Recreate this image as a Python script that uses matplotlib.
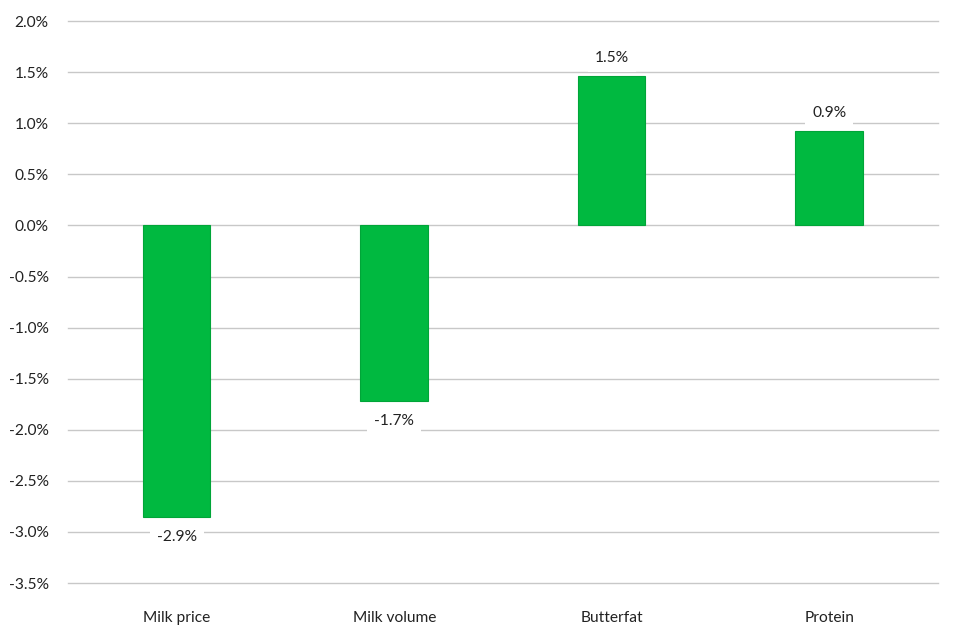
import matplotlib
matplotlib.use("Agg")
import matplotlib.pyplot as plt
from matplotlib.ticker import FuncFormatter

plt.rcParams['font.family'] = ['Lato', 'DejaVu Sans']

categories = ["Milk price", "Milk volume", "Butterfat", "Protein"]
values = [-2.85, -1.72, 1.46, 0.92]  # percent change
labels = ["-2.9%", "-1.7%", "1.5%", "0.9%"]

fig = plt.figure(figsize=(9.6, 6.4), dpi=100)
ax = fig.add_axes([0.0708, 0.089, 0.9062, 0.878])

x = range(len(categories))
ax.bar(x, values, width=0.31, color="#00B940", edgecolor="#00A538", linewidth=0.8, zorder=3)

# data labels with white boxes that hide the gridlines behind them
for i, (v, lab) in enumerate(zip(values, labels)):
    off = 18 if v > 0 else -20
    ax.annotate(lab, (i, v), xytext=(0, off), textcoords="offset pixels",
                ha="center", va="center", fontsize=11.2, color="#222222", zorder=4,
                bbox=dict(boxstyle="square,pad=0.45", fc="white", ec="none"))

ax.set_xlim(-0.5, 3.5)
ax.set_ylim(-3.5, 2.0)
ax.set_yticks([i * 0.5 for i in range(-7, 5)])
ax.yaxis.set_major_formatter(FuncFormatter(lambda v, p: "%.1f%%" % v))
ax.set_xticks(list(x))
ax.set_xticklabels(categories)
ax.grid(axis="y", color="#C8C8C8", linewidth=1, zorder=0)
for gl in ax.get_ygridlines():
    gl.set_clip_on(False)
ax.set_axisbelow(True)
for s in ax.spines.values():
    s.set_visible(False)
ax.tick_params(axis="both", length=0, labelsize=11.2, colors="#222222")
ax.tick_params(axis="x", pad=20)
ax.tick_params(axis="y", pad=14)

fig.savefig("out.png", dpi=100)
